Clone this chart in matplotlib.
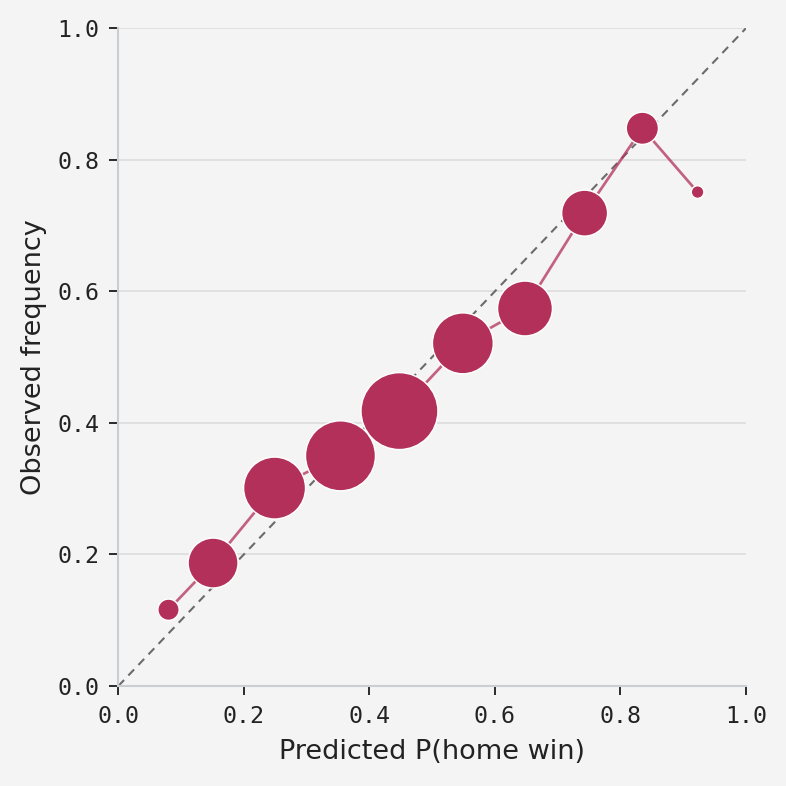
import matplotlib
matplotlib.use("Agg")
import matplotlib.pyplot as plt
import numpy as np

# calibration bins: mean predicted prob, observed home-win rate, games per bin
pred_prob = [0.080, 0.151, 0.249, 0.354, 0.448, 0.549, 0.648, 0.743, 0.835, 0.923]
obs_freq = [0.116, 0.187, 0.301, 0.350, 0.418, 0.521, 0.574, 0.719, 0.848, 0.751]
n_games = [210, 1150, 1770, 2260, 2730, 1710, 1390, 975, 480, 74]

x_ticks = [0.0, 0.2, 0.4, 0.6, 0.8, 1.0]
y_ticks = [0.0, 0.2, 0.4, 0.6, 0.8, 1.0]

bg = '#f3f4f3'
accent = '#b3305a'

fig = plt.figure(figsize=(5.24, 5.24), dpi=150, facecolor=bg)
ax = fig.add_axes([0.1505, 0.1272, 0.7985, 0.8368])
ax.set_facecolor(bg)

ax.plot([0, 1], [0, 1], linestyle=(0, (4, 3)), color='#6b6b6b', lw=1.0, zorder=1)
ax.plot(pred_prob, obs_freq, color=accent, alpha=0.75, lw=1.3, zorder=2)
ax.scatter(pred_prob, obs_freq, s=np.array(n_games) * 0.5, color=accent,
           edgecolor='white', linewidth=0.7, zorder=3)

ax.set_xlim(0, 1)
ax.set_ylim(0, 1)
ax.set_xticks(x_ticks)
ax.set_yticks(y_ticks)
ax.set_xticklabels([f'{t:.1f}' for t in x_ticks], family='DejaVu Sans Mono')
ax.set_yticklabels([f'{t:.1f}' for t in y_ticks], family='DejaVu Sans Mono')
ax.tick_params(labelsize=11.2, length=4.3, width=0.9, color='#222222',
               labelcolor='#222222', pad=4.8)

ax.grid(axis='y', color='#dcdcdc', lw=0.8, zorder=0)
ax.set_axisbelow(True)

for side in ['top', 'right']:
    ax.spines[side].set_visible(False)
for side in ['left', 'bottom']:
    ax.spines[side].set_color('#c9ced2')
    ax.spines[side].set_linewidth(1.0)

ax.set_xlabel('Predicted P(home win)', fontsize=13, color='#222222', labelpad=5.5)
ax.set_ylabel('Observed frequency', fontsize=13, color='#222222', labelpad=5)

fig.savefig('out.png', dpi=150, facecolor=bg)
